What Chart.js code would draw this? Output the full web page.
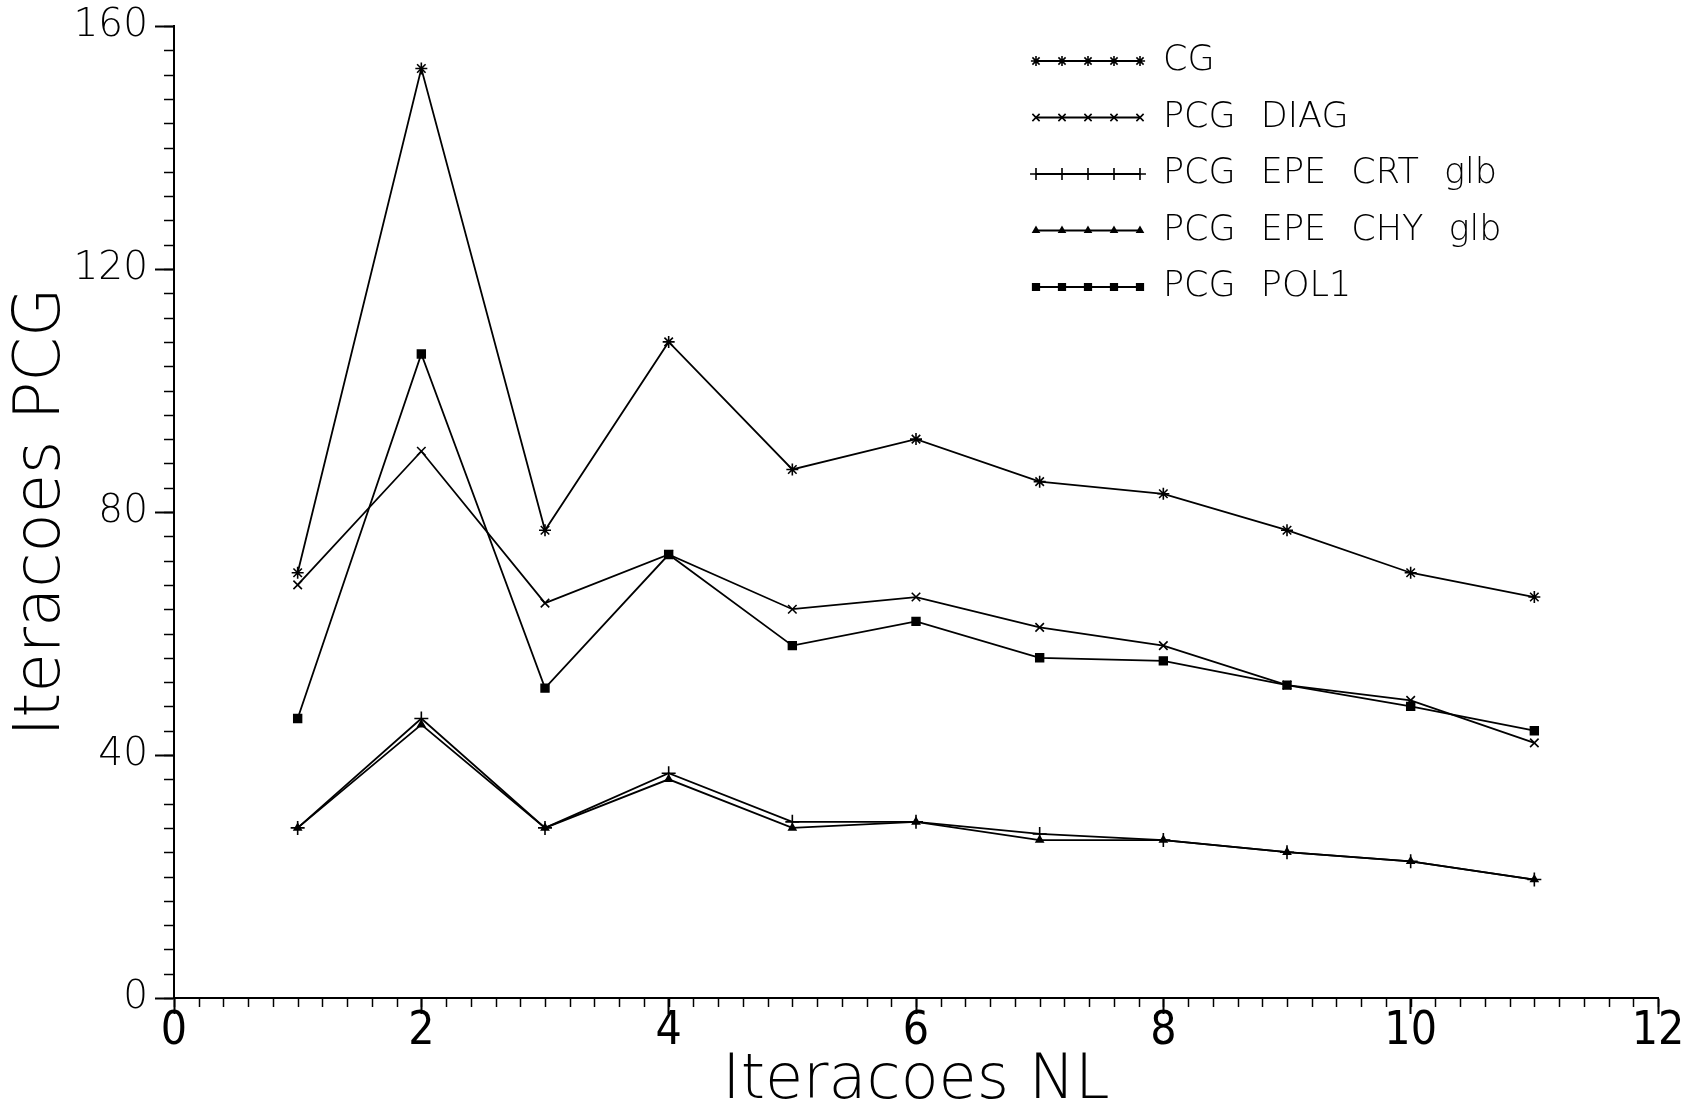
<!DOCTYPE html>
<html>
<head>
<meta charset="utf-8">
<title>Iteracoes PCG x Iteracoes NL</title>
<script src="https://cdn.jsdelivr.net/npm/chart.js@4.4.0/dist/chart.umd.min.js"></script>
<style>
  html, body { margin: 0; padding: 0; background: #fff; }
  #wrap { width: 1685px; height: 1113px; }
</style>
</head>
<body>
<div id="wrap"><canvas id="chart" width="1685" height="1113"></canvas></div>
<script>
// dados
const iterNL = [1, 2, 3, 4, 5, 6, 7, 8, 9, 10, 11];
const cg      = [70, 153, 77, 108, 87, 92, 85, 83, 77, 70, 66];
const pcgDiag = [68, 90, 65, 73, 64, 66, 61, 58, 51.5, 49, 42];
const pcgCrt  = [28, 46, 28, 37, 29, 29, 27, 26, 24, 22.5, 19.5];
const pcgChy  = [28, 45, 28, 36, 28, 29, 26, 26, 24, 22.5, 19.5];
const pcgPol1 = [46, 106, 51, 73, 58, 62, 56, 55.5, 51.5, 48, 44];

const seriesNames = ['CG', 'PCG DIAG', 'PCG EPE CRT glb', 'PCG EPE CHY glb', 'PCG POL1'];
const xTickValues = [0, 2, 4, 6, 8, 10, 12];
const yTickValues = [0, 40, 80, 120, 160];

const thin = '"DejaVu Sans", "Noto Sans", sans-serif';
const narrow = '"Liberation Sans Narrow", "DejaVu Sans Condensed", "DejaVu Sans", sans-serif';

function pontos(values) {
    return iterNL.map((x, i) => ({ x: x, y: values[i] }));
}

function serie(label, values, style, radius) {
    return {
        label: label,
        data: pontos(values),
        borderColor: '#000',
        backgroundColor: '#000',
        borderWidth: 1.8,
        tension: 0,
        pointStyle: style,
        pointRadius: radius,
        pointBorderWidth: 1.6,
        pointBackgroundColor: '#000',
        pointBorderColor: '#000'
    };
}

// tracinhos menores dos eixos
const minorTicks = {
    id: 'minorTicks',
    afterDraw(chart, args, opts) {
        const ctx = chart.ctx;
        const xs = chart.scales.x;
        const ys = chart.scales.y;
        ctx.save();
        ctx.strokeStyle = '#000';
        ctx.lineWidth = 1.5;
        const nx = Math.round((xs.max - xs.min) / opts.xStep);
        for (let i = 0; i <= nx; i++) {
            const px = Math.round(xs.getPixelForValue(xs.min + i * opts.xStep)) + 0.5;
            ctx.beginPath();
            ctx.moveTo(px, xs.top);
            ctx.lineTo(px, xs.top + opts.xLen);
            ctx.stroke();
        }
        const ny = Math.round((ys.max - ys.min) / opts.yStep);
        for (let i = 0; i <= ny; i++) {
            const py = Math.round(ys.getPixelForValue(ys.min + i * opts.yStep)) + 0.5;
            ctx.beginPath();
            ctx.moveTo(ys.right, py);
            ctx.lineTo(ys.right - opts.yLen, py);
            ctx.stroke();
        }
        ctx.restore();
    }
};

// legenda no canto superior direito
const seriesLegend = {
    id: 'seriesLegend',
    afterDraw(chart, args, opts) {
        const ctx = chart.ctx;
        chart.data.datasets.forEach((ds, i) => {
            const y = opts.top + i * opts.rowGap;
            ctx.save();
            ctx.strokeStyle = '#000';
            ctx.fillStyle = '#000';
            ctx.lineWidth = ds.borderWidth;
            ctx.beginPath();
            ctx.moveTo(opts.x0, y);
            ctx.lineTo(opts.x1, y);
            ctx.stroke();
            for (let k = 0; k < 5; k++) {
                const px = opts.x0 + k * (opts.x1 - opts.x0) / 4;
                ctx.lineWidth = ds.pointBorderWidth;
                Chart.helpers.drawPoint(ctx, {
                    pointStyle: ds.pointStyle,
                    radius: ds.pointRadius * 0.85,
                    rotation: 0,
                    borderWidth: ds.pointBorderWidth
                }, px, y);
            }
            ctx.font = '200 ' + opts.fontSize + 'px ' + thin;
            ctx.textBaseline = 'middle';
            ctx.textAlign = 'left';
            if ('wordSpacing' in ctx) ctx.wordSpacing = opts.wordSpacing + 'px';
            ctx.fillText(ds.label, opts.textX, y);
            ctx.restore();
        });
    }
};

const ctx = document.getElementById('chart').getContext('2d');

new Chart(ctx, {
    type: 'line',
    data: {
        datasets: [
            serie(seriesNames[0], cg, 'star', 6),
            serie(seriesNames[1], pcgDiag, 'crossRot', 6),
            serie(seriesNames[2], pcgCrt, 'cross', 7),
            serie(seriesNames[3], pcgChy, 'triangle', 4),
            serie(seriesNames[4], pcgPol1, 'rect', 5.5)
        ]
    },
    options: {
        responsive: false,
        animation: false,
        devicePixelRatio: 1,
        layout: { padding: { top: 26, right: 27, left: 0, bottom: 0 } },
        plugins: {
            legend: { display: false },
            tooltip: { enabled: false },
            minorTicks: { xStep: 0.2, xLen: 9, yStep: 4, yLen: 10 },
            seriesLegend: { top: 61, rowGap: 56.5, x0: 1036, x1: 1140, textX: 1163, fontSize: 35, wordSpacing: 14 }
        },
        scales: {
            x: {
                type: 'linear',
                min: 0,
                max: 12,
                afterBuildTicks(scale) {
                    scale.ticks = xTickValues.map(v => ({ value: v }));
                },
                afterFit(scale) { scale.height = 115; },
                ticks: {
                    color: '#000',
                    padding: 0,
                    font: { family: narrow, size: 46, weight: 200, lineHeight: 0.8 }
                },
                grid: {
                    drawOnChartArea: false,
                    drawTicks: true,
                    tickLength: 16,
                    tickColor: '#000',
                    tickWidth: 2
                },
                border: { display: true, color: '#000', width: 2 },
                title: {
                    display: true,
                    text: 'Iteracoes NL',
                    color: '#000',
                    padding: { top: 0, bottom: 0 },
                    font: { family: thin, size: 62, weight: 200, lineHeight: 1.0 }
                }
            },
            y: {
                type: 'linear',
                min: 0,
                max: 160,
                afterBuildTicks(scale) {
                    scale.ticks = yTickValues.map(v => ({ value: v }));
                },
                afterFit(scale) { scale.width = 174; },
                ticks: {
                    color: '#000',
                    padding: 7,
                    font: { family: thin, size: 39, weight: 200, lineHeight: 0.9 }
                },
                grid: {
                    drawOnChartArea: false,
                    drawTicks: true,
                    tickLength: 19,
                    tickColor: '#000',
                    tickWidth: 2
                },
                border: { display: true, color: '#000', width: 2 },
                title: {
                    display: true,
                    text: 'Iteracoes PCG',
                    color: '#000',
                    padding: { top: 4, bottom: 0 },
                    font: { family: thin, size: 64, weight: 200, lineHeight: 1.2 }
                }
            }
        }
    },
    plugins: [minorTicks, seriesLegend]
});
</script>
</body>
</html>
